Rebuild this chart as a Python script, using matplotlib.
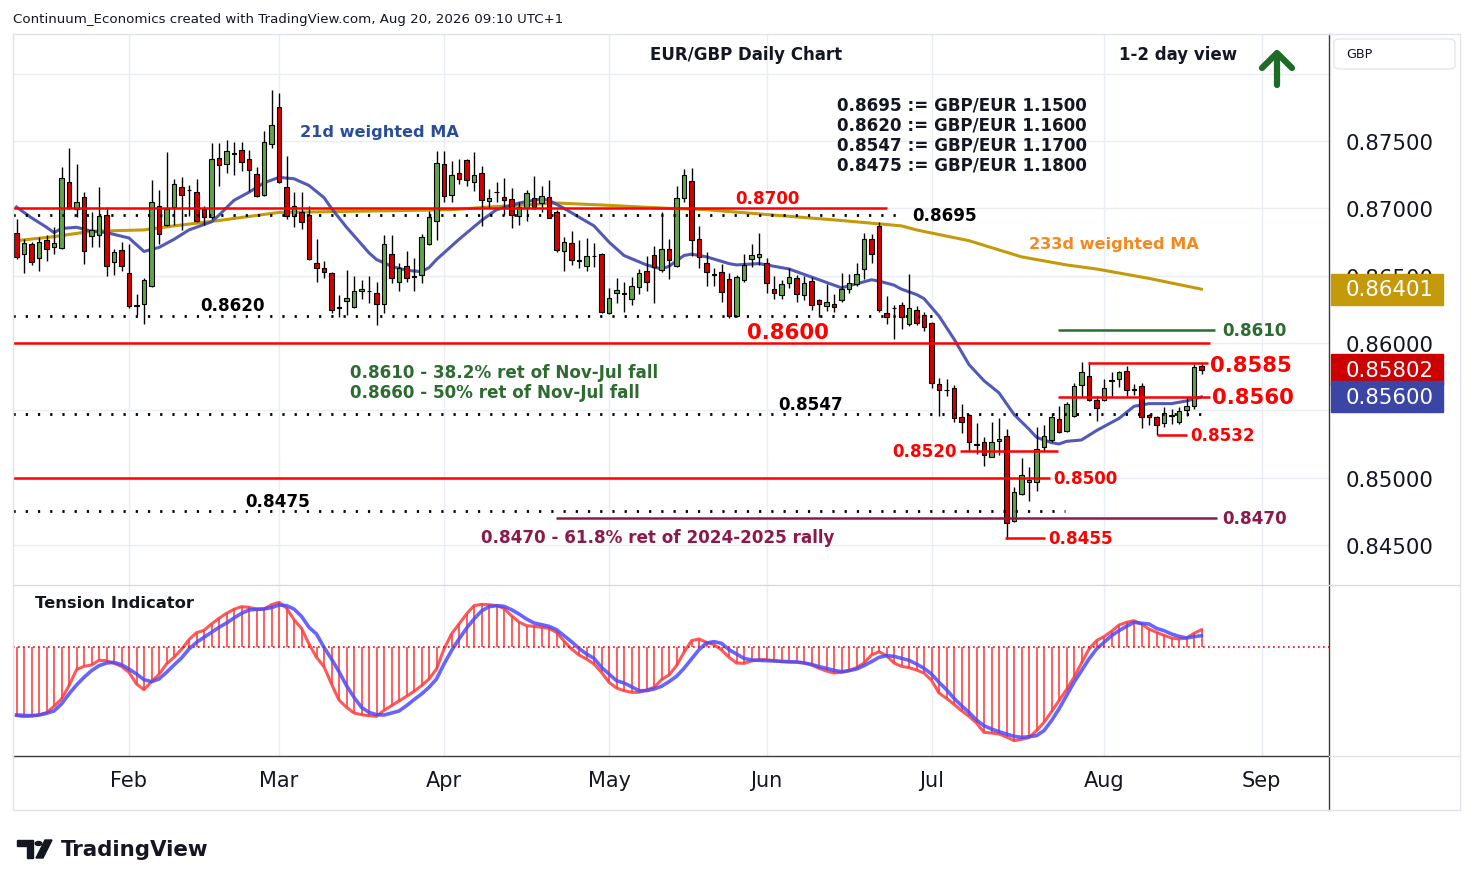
import numpy as np
import pandas as pd
import matplotlib
matplotlib.use('Agg')
import matplotlib.pyplot as plt
from matplotlib.patches import Rectangle, FancyBboxPatch, Circle, Polygon
from matplotlib.lines import Line2D
from matplotlib.transforms import blended_transform_factory

plt.rcParams['font.family'] = ['DejaVu Sans']

# daily EUR/GBP candles, 12 Jan - 20 Aug 2026 (weekdays)
dates = pd.bdate_range('2026-01-12', '2026-08-20')
opens = [0.86816, 0.86659, 0.86738, 0.86633, 0.86765, 0.86713, 0.86708, 0.87198, 0.86995, 0.87081,
         0.86794, 0.86799, 0.86953, 0.86603, 0.86689, 0.86522, 0.86272, 0.86292, 0.86427, 0.87015,
         0.86877, 0.87007, 0.87162, 0.87140, 0.87125, 0.86995, 0.86934, 0.87375, 0.87331, 0.87412,
         0.87434, 0.87368, 0.87257, 0.87098, 0.87478, 0.87755, 0.87162, 0.86941, 0.86971, 0.86953,
         0.86591, 0.86559, 0.86522, 0.86267, 0.86309, 0.86265, 0.86390, 0.86390, 0.86375, 0.86290,
         0.86664, 0.86451, 0.86574, 0.86495, 0.86505, 0.86738, 0.86909, 0.87326, 0.87100, 0.87263,
         0.87358, 0.87193, 0.87263, 0.87055, 0.87120, 0.87088, 0.87068, 0.86945, 0.87005, 0.87080,
         0.87038, 0.87088, 0.86975, 0.86683, 0.86743, 0.86615, 0.86570, 0.86650, 0.86663, 0.86220,
         0.86375, 0.86368, 0.86325, 0.86413, 0.86538, 0.86655, 0.86540, 0.86702, 0.86573, 0.87074,
         0.87201, 0.86776, 0.86597, 0.86511, 0.86530, 0.86473, 0.86200, 0.86466, 0.86622, 0.86642,
         0.86597, 0.86404, 0.86354, 0.86448, 0.86486, 0.86354, 0.86461, 0.86319, 0.86275, 0.86287,
         0.86319, 0.86399, 0.86436, 0.86548, 0.86771, 0.86866, 0.86225, 0.86262, 0.86281, 0.86138,
         0.86242, 0.86207, 0.86151, 0.85694, 0.85650, 0.85669, 0.85447, 0.85464, 0.85248, 0.85267,
         0.85151, 0.85269, 0.85306, 0.84677, 0.84879, 0.84966, 0.84966, 0.85225, 0.85279, 0.85435,
         0.85349, 0.85460, 0.85691, 0.85752, 0.85577, 0.85577, 0.85722, 0.85733, 0.85794, 0.85655,
         0.85683, 0.85465, 0.85448, 0.85406, 0.85462, 0.85416, 0.85505, 0.85535, 0.85832]
highs = [0.86922, 0.86775, 0.86750, 0.86787, 0.86799, 0.86860, 0.87309, 0.87448, 0.87326, 0.87118,
         0.86971, 0.87162, 0.87007, 0.86701, 0.86750, 0.86738, 0.86363, 0.86486, 0.87211, 0.87135,
         0.87417, 0.87221, 0.87235, 0.87172, 0.87216, 0.87020, 0.87485, 0.87485, 0.87510, 0.87490,
         0.87490, 0.87431, 0.87309, 0.87571, 0.87882, 0.87860, 0.87387, 0.87118, 0.87118, 0.87020,
         0.86770, 0.86608, 0.86530, 0.86358, 0.86542, 0.86500, 0.86468, 0.86500, 0.86456, 0.86799,
         0.86799, 0.86591, 0.86684, 0.86628, 0.86811, 0.86983, 0.87424, 0.87424, 0.87350, 0.87368,
         0.87370, 0.87420, 0.87313, 0.87143, 0.87193, 0.87225, 0.87150, 0.87045, 0.87138, 0.87238,
         0.87163, 0.87208, 0.86988, 0.86788, 0.86833, 0.86768, 0.86780, 0.86743, 0.86670, 0.86405,
         0.86480, 0.86450, 0.86488, 0.86550, 0.86650, 0.86717, 0.86970, 0.86771, 0.87169, 0.87293,
         0.87298, 0.86871, 0.86677, 0.86560, 0.86585, 0.86523, 0.86503, 0.86659, 0.86739, 0.86816,
         0.86635, 0.86498, 0.86468, 0.86560, 0.86503, 0.86498, 0.86493, 0.86329, 0.86441, 0.86361,
         0.86518, 0.86511, 0.86592, 0.86820, 0.86808, 0.86900, 0.86349, 0.86280, 0.86304, 0.86509,
         0.86274, 0.86230, 0.86156, 0.85743, 0.85736, 0.85686, 0.85546, 0.85472, 0.85403, 0.85299,
         0.85410, 0.85440, 0.85365, 0.84929, 0.85143, 0.85077, 0.85373, 0.85390, 0.85479, 0.85533,
         0.85560, 0.85703, 0.85856, 0.85856, 0.85604, 0.85733, 0.85782, 0.85794, 0.85832, 0.85695,
         0.85703, 0.85473, 0.85455, 0.85522, 0.85510, 0.85522, 0.85596, 0.85844, 0.85849]
lows = [0.86627, 0.86522, 0.86579, 0.86535, 0.86608, 0.86664, 0.86701, 0.86995, 0.86934, 0.86586,
        0.86713, 0.86713, 0.86500, 0.86505, 0.86535, 0.86260, 0.86211, 0.86138, 0.86419, 0.86733,
        0.86868, 0.86873, 0.86836, 0.86941, 0.86897, 0.86873, 0.86922, 0.87167, 0.87260, 0.87247,
        0.87277, 0.87130, 0.87081, 0.87093, 0.87448, 0.87191, 0.86922, 0.86860, 0.86848, 0.86615,
        0.86451, 0.86481, 0.86223, 0.86192, 0.86211, 0.86260, 0.86329, 0.86297, 0.86133, 0.86223,
        0.86444, 0.86383, 0.86451, 0.86383, 0.86444, 0.86726, 0.86762, 0.87050, 0.87050, 0.87180,
        0.87163, 0.87130, 0.86868, 0.87005, 0.87050, 0.86950, 0.86855, 0.86875, 0.86905, 0.86995,
        0.86975, 0.86925, 0.86675, 0.86538, 0.86580, 0.86555, 0.86538, 0.86563, 0.86220, 0.86213,
        0.86295, 0.86230, 0.86283, 0.86363, 0.86388, 0.86294, 0.86528, 0.86478, 0.86568, 0.87049,
        0.86647, 0.86560, 0.86424, 0.86424, 0.86304, 0.86188, 0.86195, 0.86453, 0.86568, 0.86578,
        0.86374, 0.86324, 0.86324, 0.86411, 0.86304, 0.86319, 0.86245, 0.86195, 0.86237, 0.86230,
        0.86304, 0.86369, 0.86424, 0.86473, 0.86592, 0.86230, 0.86145, 0.86032, 0.86106, 0.86126,
        0.86131, 0.86089, 0.85664, 0.85459, 0.85607, 0.85410, 0.85331, 0.85200, 0.85175, 0.85089,
        0.85151, 0.85168, 0.84546, 0.84669, 0.84874, 0.84830, 0.84904, 0.85200, 0.85262, 0.85331,
        0.85336, 0.85448, 0.85596, 0.85572, 0.85423, 0.85572, 0.85609, 0.85671, 0.85609, 0.85614,
        0.85366, 0.85391, 0.85317, 0.85374, 0.85398, 0.85398, 0.85455, 0.85510, 0.85770]
closes = [0.86640, 0.86745, 0.86603, 0.86750, 0.86699, 0.86745, 0.87228, 0.87000, 0.87051, 0.86684,
          0.86843, 0.86941, 0.86574, 0.86677, 0.86574, 0.86272, 0.86285, 0.86468, 0.87051, 0.86809,
          0.86995, 0.87184, 0.87100, 0.87135, 0.86904, 0.86939, 0.87363, 0.87321, 0.87429, 0.87407,
          0.87345, 0.87282, 0.87093, 0.87490, 0.87617, 0.87198, 0.86941, 0.87015, 0.86897, 0.86623,
          0.86559, 0.86525, 0.86243, 0.86262, 0.86334, 0.86383, 0.86402, 0.86387, 0.86292, 0.86733,
          0.86481, 0.86554, 0.86486, 0.86490, 0.86787, 0.86934, 0.87338, 0.87093, 0.87245, 0.87220,
          0.87208, 0.87245, 0.87063, 0.87075, 0.87122, 0.87063, 0.86950, 0.87013, 0.87113, 0.87013,
          0.87095, 0.86930, 0.86688, 0.86750, 0.86618, 0.86612, 0.86645, 0.86645, 0.86230, 0.86338,
          0.86395, 0.86365, 0.86420, 0.86518, 0.86450, 0.86568, 0.86697, 0.86615, 0.87074, 0.87248,
          0.86764, 0.86642, 0.86530, 0.86508, 0.86381, 0.86200, 0.86493, 0.86578, 0.86652, 0.86664,
          0.86448, 0.86374, 0.86441, 0.86493, 0.86367, 0.86448, 0.86280, 0.86292, 0.86307, 0.86270,
          0.86404, 0.86448, 0.86511, 0.86771, 0.86664, 0.86245, 0.86195, 0.86260, 0.86195, 0.86262,
          0.86151, 0.86121, 0.85701, 0.85652, 0.85648, 0.85440, 0.85417, 0.85262, 0.85246, 0.85170,
          0.85262, 0.85286, 0.84664, 0.84891, 0.85022, 0.84983, 0.85212, 0.85311, 0.85447, 0.85341,
          0.85547, 0.85683, 0.85782, 0.85577, 0.85515, 0.85663, 0.85720, 0.85782, 0.85651, 0.85653,
          0.85448, 0.85448, 0.85391, 0.85478, 0.85460, 0.85497, 0.85535, 0.85819, 0.85802]

# moving averages (trading-day number, value)
ma21_day = [0, 2, 4, 5, 6, 8, 10, 12, 15, 16, 17, 19, 21, 23, 26, 27, 29, 31, 33, 35, 37, 39, 41, 42,
            44, 47, 48, 50, 52, 54, 55, 56, 58, 59, 62, 64, 67, 70, 71, 73, 77, 79, 81, 84, 86, 87,
            89, 90, 92, 95, 96, 99, 101, 103, 105, 108, 110, 112, 114, 115, 117, 118, 120, 121, 123,
            125, 127, 129, 131, 133, 135, 136, 138, 139, 140, 142, 144, 147, 149, 151, 154, 156, 158]
ma21_val = [0.8701, 0.8693, 0.8686, 0.8682, 0.8685, 0.8686, 0.8683, 0.8682, 0.8678, 0.8673, 0.8668,
            0.8671, 0.8677, 0.8684, 0.8690, 0.8695, 0.8706, 0.8712, 0.8719, 0.8723, 0.8722, 0.8717,
            0.8708, 0.8700, 0.8686, 0.8667, 0.8662, 0.8657, 0.8654, 0.8653, 0.8656, 0.8662, 0.8672,
            0.8677, 0.8691, 0.8699, 0.8704, 0.8707, 0.8706, 0.8700, 0.8687, 0.8675, 0.8665, 0.8658,
            0.8655, 0.8657, 0.8665, 0.8666, 0.8664, 0.8659, 0.8658, 0.8659, 0.8657, 0.8655, 0.8651,
            0.8645, 0.8641, 0.8644, 0.8647, 0.8646, 0.8643, 0.8640, 0.8636, 0.8633, 0.8620, 0.8603,
            0.8584, 0.8572, 0.8563, 0.8547, 0.8536, 0.8530, 0.8526, 0.8525, 0.8527, 0.8528, 0.8535,
            0.8544, 0.8553, 0.8555, 0.8555, 0.8557, 0.8560]
ma233_day = [0, 5, 10, 17, 21, 27, 35, 47, 58, 63, 72, 78, 87, 92, 101, 110, 118, 120, 127, 134,
             140, 144, 151, 158]
ma233_val = [0.8676, 0.8679, 0.8683, 0.8684, 0.8687, 0.8691, 0.8697, 0.8698, 0.8699, 0.8701, 0.8704,
             0.87025, 0.8700, 0.8699, 0.8695, 0.8691, 0.8687, 0.8684, 0.8676, 0.8664, 0.8658, 0.8655,
             0.8648, 0.8640]

# tension indicator (fast = red, slow = blue)
tension_fast = [-20.5, -20.8, -20.6, -20.3, -19.6, -17.7, -15.5, -11.5, -6.7, -5.7,
                -5.3, -3.9, -4.0, -4.8, -5.7, -7.5, -11.0, -12.7, -10.3, -8.1,
                -5.0, -3.0, -0.6, 2.3, 4.4, 5.1, 7.0, 8.7, 10.2, 11.4,
                12.2, 12.0, 11.5, 11.5, 12.8, 13.5, 11.8, 8.3, 5.7, 1.0,
                -3.0, -5.8, -11.0, -15.8, -18.0, -19.7, -20.2, -20.5, -20.7, -18.9,
                -17.5, -16.1, -14.7, -13.2, -11.5, -9.5, -6.5, -0.5, 4.0, 7.0,
                10.0, 12.5, 12.9, 12.8, 12.5, 11.7, 9.5, 7.6, 6.5, 6.3,
                6.0, 5.7, 4.5, 1.9, -0.5, -2.3, -3.5, -5.0, -7.5, -10.5,
                -12.2, -13.0, -13.5, -13.5, -12.8, -12.0, -9.7, -8.3, -5.5, -1.5,
                2.0, 2.5, 1.5, 0.8, -0.8, -3.0, -4.7, -4.8, -4.1, -3.7,
                -3.7, -4.0, -4.3, -4.4, -4.4, -4.6, -5.3, -6.3, -7.1, -7.7,
                -7.5, -7.0, -6.1, -4.7, -2.3, -1.3, -2.5, -4.7, -5.7, -6.1,
                -6.8, -7.7, -9.9, -13.7, -15.3, -17.1, -19.0, -20.7, -22.7, -25.5,
                -25.7, -26.0, -26.9, -28.0, -27.6, -27.1, -25.0, -22.5, -19.3, -16.0,
                -12.7, -9.0, -4.7, -0.5, 2.0, 3.2, 4.8, 6.7, 7.5, 8.0,
                7.0, 5.5, 4.5, 3.6, 2.8, 2.5, 2.8, 4.2, 5.3]
tension_slow = [-20.3, -20.4, -20.5, -20.3, -19.8, -19.1, -17.0, -14.0, -11.3, -9.0,
                -7.0, -5.5, -4.7, -4.5, -5.2, -6.5, -8.0, -9.7, -10.3, -9.5,
                -7.5, -5.3, -3.2, -0.5, 1.5, 3.0, 4.5, 6.0, 7.3, 8.8,
                10.2, 11.2, 11.4, 11.5, 11.9, 12.7, 12.5, 11.5, 9.3, 6.0,
                4.0, 0.0, -3.5, -7.3, -11.5, -15.0, -18.0, -19.5, -20.2, -20.3,
                -19.7, -19.1, -17.5, -15.7, -14.0, -12.0, -9.5, -5.0, -1.0, 2.5,
                5.7, 8.5, 10.9, 12.2, 12.5, 12.3, 11.3, 10.0, 8.5, 7.3,
                6.8, 6.3, 5.3, 3.5, 1.7, -0.3, -2.0, -3.3, -6.0, -8.0,
                -10.0, -10.7, -11.8, -13.0, -13.0, -12.5, -11.7, -10.3, -8.7, -6.3,
                -3.5, -0.7, 1.3, 1.7, 1.2, -0.7, -2.0, -3.3, -3.8, -3.9,
                -4.0, -4.1, -4.2, -4.3, -4.4, -4.7, -5.1, -5.8, -6.3, -6.9,
                -7.3, -7.0, -6.5, -5.5, -4.3, -3.0, -2.5, -2.7, -3.3, -3.9,
                -5.0, -6.3, -8.0, -10.5, -12.7, -15.3, -17.5, -19.5, -21.8, -23.5,
                -24.5, -25.3, -26.0, -26.7, -27.0, -26.8, -26.5, -25.0, -22.0, -18.5,
                -14.5, -10.5, -7.0, -3.5, -0.5, 1.5, 3.5, 5.0, 6.3, 7.5,
                7.2, 7.0, 5.7, 5.0, 4.0, 3.3, 2.8, 3.2, 3.5]

# support / resistance levels
red_levels = [0.8700, 0.8600, 0.8585, 0.8560, 0.8532, 0.8520, 0.8500, 0.8455]
dotted_levels = [0.8695, 0.8620, 0.8547, 0.8475]
green_level = 0.8610
maroon_level = 0.8470
gbpeur = [(0.8695, 1.1500), (0.8620, 1.1600), (0.8547, 1.1700), (0.8475, 1.1800)]
last_price = 0.85802
ma21_last = 0.85600
ma233_last = 0.86401

W, H = 1474, 887
RED, GREEN_C, RED_C = '#ff0000', '#63a34b', '#d40000'
DKGREEN, MAROON = '#2e6b30', '#8b1a4b'


def fx(px):
    return px / W


def fy(py):
    return 1 - py / H


def bx(px):
    # horizontal pixel -> bar position (7.5 px per trading day)
    return (px - 16.5) / 7.5


fig = plt.figure(figsize=(W / 100, H / 100), dpi=100)
fig.patch.set_facecolor('white')
ax = fig.add_axes([fx(13), fy(586), fx(1329) - fx(13), fy(35) - fy(586)])
ind = fig.add_axes([fx(13), fy(757), fx(1329) - fx(13), fy(587) - fy(757)])

axis_days = pd.bdate_range('2026-01-12', '2026-09-30')
month_pos = [i for i in range(1, len(axis_days)) if axis_days[i].month != axis_days[i - 1].month]
month_lab = [axis_days[i].strftime('%b') for i in month_pos]

x = np.arange(len(dates))
o, h, l, c = map(np.array, (opens, highs, lows, closes))
up = c >= o

for a in (ax, ind):
    a.set_xlim(bx(13), bx(1329))
    for s in a.spines.values():
        s.set_visible(False)
    a.set_xticks(month_pos)
    a.grid(axis='x', color='#e9eef4', lw=1)
    a.set_axisbelow(True)

ax.set_ylim(0.84203, 0.88295)
ax.set_xticklabels([])
ax.tick_params(axis='x', length=0)
yt = np.round(np.arange(0.845, 0.8801, 0.005), 3)
ax.set_yticks(yt)
# 0.85500 sits fully behind the 21d MA price box, 0.88000 is not labelled
ax.set_yticklabels(['' if v in (0.855, 0.88) else f'{v:.5f}' for v in yt])
ax.yaxis.tick_right()
ax.tick_params(axis='y', length=0, pad=12, labelsize=15.3, labelcolor='#131722')
ax.grid(axis='y', color='#e9eef4', lw=1)

# moving averages
ax.plot(x[ma233_day], ma233_val, color='#c49a0a', lw=2.2, zorder=3)
ax.plot(x[ma21_day], ma21_val, color='#4048ad', lw=2.2, zorder=3, alpha=0.9)

# candles
ax.vlines(x, l, h, color='black', lw=1, zorder=4)
ax.bar(x, np.maximum(np.abs(c - o), 0.00003), bottom=np.minimum(o, c), width=0.62,
       color=np.where(up, GREEN_C, RED_C), edgecolor='black', lw=0.8, zorder=5)

# level lines (extent in pixels of the original chart)
spans = {0.8700: (13, 887), 0.8600: (13, 1210), 0.8585: (1088, 1208), 0.8560: (1058, 1210),
         0.8532: (1157, 1187), 0.8520: (960, 1058), 0.8500: (13, 1050), 0.8455: (1005, 1045),
         0.8695: (13, 905), 0.8620: (13, 942), 0.8547: (13, 1210), 0.8475: (13, 1065)}
for p in red_levels:
    ax.hlines(p, bx(spans[p][0]), bx(spans[p][1]), color=RED, lw=1.8, zorder=6)
for p in dotted_levels:
    ax.hlines(p, bx(spans[p][0]), bx(spans[p][1]), color='black', lw=2,
              linestyles=(0, (0.8, 3.6)), zorder=6)
ax.hlines(green_level, bx(1058), bx(1215), color=DKGREEN, lw=1.8, zorder=6)
ax.hlines(maroon_level, bx(556), bx(1217), color=MAROON, lw=1.8, zorder=6)

lab = dict(fontsize=12.1, fontweight='bold', zorder=7)
big = dict(fontsize=15.3, fontweight='bold', zorder=7)
ax.text(bx(735), 0.8700 + 0.00012, '0.8700', color=RED, va='bottom', **lab)
ax.text(bx(912), 0.8695, '0.8695', color='black', va='center', **lab)
ax.text(bx(200), 0.8620 + 0.00012, '0.8620', color='black', va='bottom', **lab)
ax.text(bx(747), 0.8600 + 0.00008, '0.8600', color=RED, va='bottom', **big)
ax.text(bx(1222), green_level, f'{green_level:.4f}', color=DKGREEN, va='center', **lab)
ax.text(bx(1210), 0.8585 - 0.0001, '0.8585', color=RED, va='center', **big)
ax.text(bx(1212), 0.8560, '0.8560', color=RED, va='center', **big)
ax.text(bx(778), 0.8547 + 0.00012, '0.8547', color='black', va='bottom', **lab)
ax.text(bx(1190), 0.8532, '0.8532', color=RED, va='center', **lab)
ax.text(bx(957), 0.8520, '0.8520', color=RED, va='center', ha='right', **lab)
ax.text(bx(1053), 0.8500, '0.8500', color=RED, va='center', **lab)
ax.text(bx(245), 0.8475 + 0.00012, '0.8475', color='black', va='bottom', **lab)
ax.text(bx(1222), maroon_level, f'{maroon_level:.4f}', color=MAROON, va='center', **lab)
ax.text(bx(1048), 0.8455, '0.8455', color=RED, va='center', **lab)

# text annotations (figure pixel positions)
def ftext(px, py, s, **kw):
    kw.setdefault('va', 'center')
    fig.text(fx(px), fy(py), s, **kw)


ftext(650, 55, 'EUR/GBP Daily Chart', fontsize=12, fontweight='bold', color='#131722')
ftext(1119, 55, '1-2 day view', fontsize=12, fontweight='bold', color='#131722')
ftext(300, 132, '21d weighted MA', fontsize=11.6, fontweight='bold', color='#2a4f9a')
ftext(1029, 245, '233d weighted MA', fontsize=11.6, fontweight='bold', color='#f5891f')
for k, (p, r) in enumerate(gbpeur):
    ftext(837, 106 + 20 * k, f'{p:.4f} := GBP/EUR {r:.4f}', fontsize=12.1, fontweight='bold',
          color='#131722')
ftext(350, 373, '0.8610 - 38.2% ret of Nov-Jul fall', fontsize=12.1, fontweight='bold', color=DKGREEN)
ftext(350, 393, '0.8660 - 50% ret of Nov-Jul fall', fontsize=12.1, fontweight='bold', color=DKGREEN)
ftext(481, 538, '0.8470 - 61.8% ret of 2024-2025 rally', fontsize=12.1, fontweight='bold', color=MAROON)
ftext(35, 604, 'Tension Indicator', fontsize=11.8, fontweight='bold', color='#131722')
ftext(13, 19, 'Continuum_Economics created with TradingView.com, Aug 20, 2026 09:10 UTC+1',
      fontsize=9.6, color='#131722')

# up arrow
for xs, ys in (((1277, 1277), (86, 55)), ((1262, 1277, 1292), (69, 54, 69))):
    fig.add_artist(Line2D([fx(v) for v in xs], [fy(v) for v in ys], color='#1d6b27', lw=4.5,
                          solid_capstyle='round', solid_joinstyle='round'))

# price boxes on the right axis
tb = blended_transform_factory(ax.transAxes, ax.transData)
for val, col in ((ma233_last, '#c49a0a'), (last_price, '#cc0000'), (ma21_last, '#3a45a5')):
    ax.add_patch(Rectangle(((1331 - 13) / 1316, val - 0.00115), 112 / 1316, 0.0023,
                           transform=tb, color=col, clip_on=False, zorder=8))
    ax.text((1346 - 13) / 1316, val, f'{val:.5f}', transform=tb, color='white', fontsize=15.3,
            va='center', ha='left', zorder=9, clip_on=False)

# tension indicator panel
tf, ts = np.array(tension_fast), np.array(tension_slow)
ind.set_ylim(-32.6, 18.4)
ind.set_yticks([])
ind.vlines(x, 0, tf, color='#ff4d4d', lw=1.4, alpha=0.9)
ind.plot(x, tf, color='#ff3b3b', lw=2.2, alpha=0.85)
ind.plot(x, ts, color='#4b4bff', lw=2.6, alpha=0.85)
ind.axhline(0, color='#ff0000', lw=1.2, ls=(0, (1, 2)))
ind.set_xticklabels(month_lab)
ind.tick_params(axis='x', length=0, pad=10, labelsize=15, labelcolor='#131722')

# frame lines
frame = [((1329, 1329), (35, 811), '#3b3b3b'), ((13, 1329), (757, 757), '#3b3b3b'),
         ((13, 1460), (586, 586), '#d7dae0'), ((13, 1460), (35, 35), '#e0e3eb'),
         ((13, 1460), (811, 811), '#e0e3eb'), ((13, 13), (35, 811), '#e0e3eb'),
         ((1460, 1460), (35, 811), '#e0e3eb'), ((1329, 1460), (757, 757), '#e0e3eb')]
for xs, ys, col in frame:
    fig.add_artist(Line2D([fx(v) for v in xs], [fy(v) for v in ys], color=col, lw=1))

fig.add_artist(FancyBboxPatch((fx(1334), fy(70)), fx(1455) - fx(1334), fy(40) - fy(70),
                              boxstyle='round,pad=0,rounding_size=0.004', transform=fig.transFigure,
                              facecolor='white', edgecolor='#e3e6ec', lw=1))
ftext(1346, 55, 'GBP', fontsize=9.2, color='#131722')

# TradingView logo
fig.add_artist(Polygon([(fx(17), fy(841)), (fx(33), fy(841)), (fx(33), fy(859)), (fx(27), fy(859)),
                        (fx(27), fy(847)), (fx(17), fy(847))], closed=True, color='#131722'))
fig.add_artist(Circle((fx(38.5), fy(844.5)), 3.3 / W, transform=fig.transFigure, color='#131722'))
fig.add_artist(Polygon([(fx(36), fy(859)), (fx(45), fy(841)), (fx(52), fy(841)), (fx(43), fy(859))],
                       closed=True, color='#131722'))
ftext(61, 850, 'TradingView', fontsize=15.4, fontweight='bold', color='#131722')

fig.savefig('out.png', dpi=100)
